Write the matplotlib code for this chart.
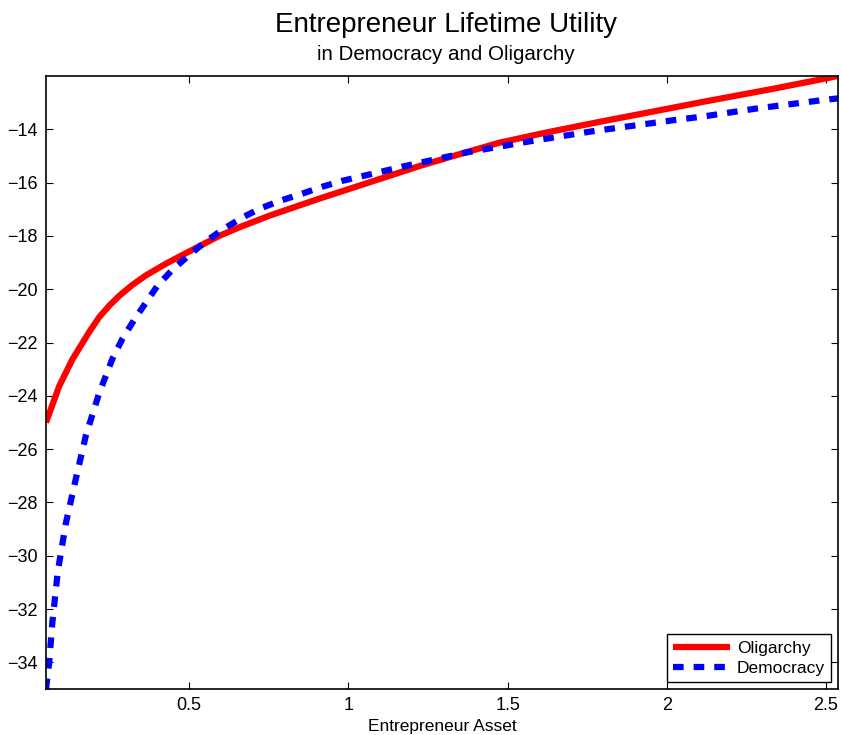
import matplotlib.pyplot as plt

plt.rcParams['font.family'] = ['Liberation Sans', 'DejaVu Sans']

# data
asset_olig = [0.05, 0.091, 0.133, 0.186, 0.217, 0.25, 0.28, 0.32, 0.364, 0.43, 0.51,
              0.594, 0.657, 0.752, 0.909, 1.066, 1.223, 1.35, 1.475, 1.63, 1.789,
              1.95, 2.114, 2.334, 2.538]
util_olig = [-25.0, -23.65, -22.63, -21.6, -21.05, -20.6, -20.25, -19.85, -19.48, -19.02, -18.52,
             -18.0, -17.68, -17.24, -16.6, -15.99, -15.38, -14.93, -14.5, -14.1, -13.72,
             -13.35, -12.97, -12.48, -12.0]

asset_demo = [0.05, 0.06, 0.07, 0.087, 0.112, 0.144, 0.175, 0.217, 0.259, 0.29,
              0.327, 0.364, 0.4, 0.447, 0.5, 0.553, 0.605, 0.668, 0.725, 0.788,
              0.856, 0.919, 0.982, 1.107, 1.17, 1.37, 1.57, 1.763, 2.02, 2.114,
              2.282, 2.492, 2.538]
util_demo = [-35.0, -34.0, -32.5, -30.6, -28.8, -27.1, -25.5, -23.9, -22.6, -21.86,
             -21.15, -20.5, -19.87, -19.27, -18.72, -18.2, -17.76, -17.3, -16.96, -16.67,
             -16.41, -16.15, -15.93, -15.58, -15.4, -14.87, -14.45, -14.08, -13.66, -13.52,
             -13.22, -12.9, -12.84]

xticks = [0.5, 1, 1.5, 2, 2.5]
xtick_labels = ['0.5', '1', '1.5', '2', '2.5']
yticks = list(range(-34, -13, 2))

fig = plt.figure(figsize=(8.41, 7.35), dpi=100)
ax = fig.add_axes([46 / 841, 1 - 689 / 735, (838 - 46) / 841, (689 - 76) / 735])

ax.plot(asset_olig, util_olig, color='#ff0000', linewidth=4.5, label='Oligarchy',
        solid_capstyle='butt', solid_joinstyle='round')
ax.plot(asset_demo, util_demo, color='#0000ff', linewidth=4.5, label='Democracy',
        linestyle=(0, (1.7, 1.6)), dash_capstyle='butt')

ax.set_xlim(0.05, 2.538)
ax.set_ylim(-35, -12)
ax.set_xticks(xticks)
ax.set_xticklabels(xtick_labels)
ax.set_yticks(yticks)
ax.set_yticklabels([f'\u2212{abs(v)}' for v in yticks])

ax.tick_params(direction='in', length=5, width=0.8, top=True, right=True,
               labelsize=13, pad=6)
for sp in ax.spines.values():
    sp.set_linewidth(1.2)

ax.set_xlabel('Entrepreneur Asset', fontsize=12.5, labelpad=3)

fig.text(0.53, 1 - 25 / 735, 'Entrepreneur Lifetime Utility', fontsize=20,
         ha='center', va='center')
fig.text(0.53, 1 - 55 / 735, 'in Democracy and Oligarchy', fontsize=14.8,
         ha='center', va='center')

leg = ax.legend(loc='lower right', fontsize=12.5, fancybox=False, framealpha=1,
                edgecolor='black', handlelength=3.3, borderpad=0.35,
                labelspacing=0.3, handletextpad=0.4, borderaxespad=0.4)
leg.get_frame().set_linewidth(1.0)

fig.savefig('out.png', dpi=100)
